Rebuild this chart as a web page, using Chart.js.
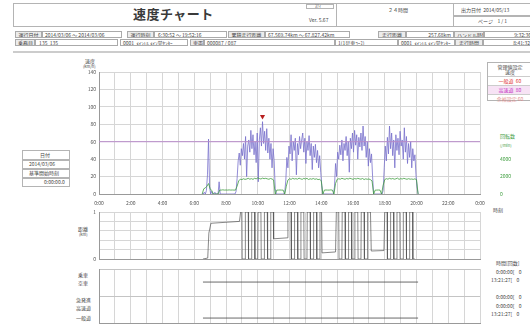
<!DOCTYPE html>
<html lang="ja">
<head>
<meta charset="utf-8">
<title>速度チャート</title>
<script src="https://cdn.jsdelivr.net/npm/chart.js@4.4.1/dist/chart.umd.min.js"></script>
<style>
body { margin:0; background:#fff; font-family:"Noto Sans CJK JP", "Noto Sans", sans-serif; color:#444; }
#page { position:relative; width:530px; height:326px; overflow:hidden; }
canvas { position:absolute; left:0; top:0; }
.t { position:absolute; font-size:5px; line-height:6px; white-space:nowrap; }
.c { position:absolute; border:1px solid #aaa; box-sizing:border-box; height:7px; font-size:5px; line-height:5px; white-space:nowrap; overflow:hidden; padding:0 2px; }
.l { background:#ececec; text-align:center; }
.r { text-align:right; }
.frame { position:absolute; border:1px solid #b4b4b4; box-sizing:border-box; }
.leg div { height:8px; line-height:8px; border-top:1px solid #ccc; text-align:center; font-size:5px; }
</style>
</head>
<body>
<div id="page">
  <!-- ヘッダー -->
  <div class="frame" style="left:13px;top:3px;width:324px;height:24px;"></div>
  <div class="t" style="left:133px;top:7px;font-size:13px;line-height:14px;color:#3a3a3a;font-weight:bold;letter-spacing:0.5px;">速度チャート</div>
  <div class="frame" style="left:306px;top:4px;width:28px;height:5px;"></div>
  <div class="t" style="left:315px;top:4px;font-size:4px;line-height:5px;">ｽﾃｲ</div>
  <div class="t" style="left:309px;top:17px;">Ver. 5.67</div>
  <div class="frame" style="left:336px;top:3px;width:118px;height:24px;"></div>
  <div class="t" style="left:388px;top:7px;">２４時間</div>
  <div class="frame" style="left:453px;top:3px;width:80px;height:24px;"></div>
  <div class="frame" style="left:453px;top:15px;width:80px;height:1px;"></div>
  <div class="t" style="left:461px;top:7px;">出力日付&nbsp;&nbsp;2014/05/13</div>
  <div class="t" style="left:478px;top:18px;">ページ&nbsp;&nbsp;&nbsp;&nbsp;1 / 1</div>

  <div class="c l" style="left:15px;top:31px;width:27px;">運行日付</div>
  <div class="c" style="left:42px;top:31px;width:80px;">2014/03/06 ～ 2014/03/06</div>
  <div class="c l" style="left:127px;top:31px;width:27px;">運行時刻</div>
  <div class="c" style="left:154px;top:31px;width:73px;">&nbsp;6:30:52 ～ 19:52:16</div>
  <div class="c l" style="left:228px;top:31px;width:37px;">累積走行距離</div>
  <div class="c" style="left:265px;top:31px;width:85px;">67,569.74km ～ 67,827.42km</div>
  <div class="c l" style="left:378px;top:31px;width:28px;">走行距離</div>
  <div class="c r" style="left:406px;top:31px;width:48px;">257.68km</div>
  <div class="c l" style="left:454px;top:31px;width:30px;">ハンドル時間</div>
  <div class="c r" style="left:484px;top:31px;width:50px;">9:32:36</div>

  <div class="c l" style="left:15px;top:39px;width:20px;">乗務員</div>
  <div class="c" style="left:35px;top:39px;width:83px;">&nbsp;135&nbsp;&nbsp;135</div>
  <div class="c" style="left:120px;top:39px;width:68px;">0001&nbsp;&nbsp;ﾒｲﾝﾄﾙ ﾒｲﾝ営ｾﾝﾀｰ</div>
  <div class="c l" style="left:190px;top:39px;width:14px;">車両</div>
  <div class="c" style="left:204px;top:39px;width:131px;">000087 / 087</div>
  <div class="c" style="left:335px;top:39px;width:63px;">1(1号車ｺｰｽ)</div>
  <div class="c" style="left:398px;top:39px;width:57px;">0001&nbsp;&nbsp;ﾒｲﾝﾄﾙ ﾒｲﾝ営ｾﾝﾀｰ</div>
  <div class="c l" style="left:455px;top:39px;width:28px;">走行時間</div>
  <div class="c r" style="left:483px;top:39px;width:50px;">8:41:32</div>

  <div class="frame" style="left:13px;top:51px;width:520px;height:2px;border-color:#ccc;"></div>

  <!-- 軸ラベル -->
  <div class="t" style="left:85px;top:58px;">速度</div>
  <div class="t" style="left:83px;top:63px;font-size:4px;">(km/h)</div>
  <div class="t" style="left:500px;top:133px;color:#3c9a3c;">回転数</div>
  <div class="t" style="left:500px;top:142px;color:#3c9a3c;font-size:4px;">(/min)</div>
  <div class="t" style="left:493px;top:207px;">時刻</div>
  <div class="t" style="left:78px;top:226px;">距離</div>
  <div class="t" style="left:79px;top:231px;font-size:4px;">(km)</div>
  <div class="t" style="left:78px;top:272px;">乗車</div>
  <div class="t" style="left:78px;top:280px;">空車</div>
  <div class="t" style="left:76px;top:297px;">急発進</div>
  <div class="t" style="left:76px;top:305px;">高速道</div>
  <div class="t" style="left:76px;top:315px;">一般道</div>

  <!-- 管理値設定 -->
  <div class="frame leg" style="left:487px;top:62px;width:46px;height:39px;">
    <div style="border-top:none;height:13px;line-height:5px;padding-top:1px;box-sizing:border-box;">管理値設定<br>速度</div>
    <div style="color:#e03030;">一般道&nbsp;&nbsp;60</div>
    <div style="color:#c22ec2;background:#f7e3f5;">高速道&nbsp;&nbsp;80</div>
    <div style="color:#e08c8c;">余裕設定&nbsp;60</div>
  </div>

  <!-- 日付 -->
  <div class="frame" style="left:22px;top:150px;width:48px;height:37px;"></div>
  <div class="t" style="left:40px;top:152px;">日付</div>
  <div class="frame" style="left:22px;top:159px;width:48px;height:1px;"></div>
  <div class="t" style="left:29px;top:161px;">2014/03/06</div>
  <div class="frame" style="left:22px;top:168px;width:48px;height:1px;"></div>
  <div class="t" style="left:29px;top:170px;">基準開始時刻</div>
  <div class="frame" style="left:22px;top:177px;width:48px;height:1px;"></div>
  <div class="t" style="left:44px;top:179px;">0:00:00.0</div>

  <!-- 時間[回数] -->
  <div class="t" style="left:496px;top:260px;">時間[回数]</div>
  <div class="t" style="left:496px;top:269px;">0:00:00[&nbsp;&nbsp;&nbsp;&nbsp;0</div>
  <div class="t" style="left:491px;top:277px;">13:21:27[&nbsp;&nbsp;&nbsp;&nbsp;0</div>
  <div class="t" style="left:496px;top:294px;">0:00:00[&nbsp;&nbsp;&nbsp;&nbsp;0</div>
  <div class="t" style="left:496px;top:303px;">0:00:00[&nbsp;&nbsp;&nbsp;&nbsp;0</div>
  <div class="t" style="left:491px;top:311px;">13:21:27[&nbsp;&nbsp;&nbsp;&nbsp;0</div>

  <canvas id="speedChart" width="530" height="326"></canvas>
  <canvas id="distChart" width="530" height="326"></canvas>
  <canvas id="stateChart" width="530" height="326"></canvas>
</div>

<script>
// 速度 km/h : 6:30 から 4 分ごと
const speedStartMin = 390;
const speedStepMin = 4;
const speedKmh = [
  0, 0, 2, 0, 4, 22, 63, 8, 0, 3, 0, 0, 2, 0, 0,
  0, 14, 0, 0, 0, 0, 0, 0, 0, 0, 0, 0, 0, 0, 0,
  0, 0, 3, 18, 38, 47, 33, 52, 44, 58, 40, 66, 20, 55, 62,
  48, 73, 52, 68, 45, 60, 36, 70, 14, 62, 76, 55, 83, 58, 72,
  50, 75, 47, 64, 40, 58, 30, 52, 38, 6, 0, 0, 0, 0, 0,
  0, 0, 0, 2, 15, 42, 30, 55, 46, 68, 38, 60, 50, 64, 22,
  58, 45, 66, 52, 62, 70, 48, 64, 35, 60, 50, 67, 44, 58, 28,
  55, 42, 57, 36, 50, 30, 44, 25, 10, 0, 0, 0, 0, 0, 0,
  0, 0, 0, 0, 0, 8, 35, 20, 48, 40, 56, 45, 62, 38, 58,
  50, 66, 44, 60, 25, 64, 52, 70, 48, 73, 56, 68, 40, 65, 54,
  70, 50, 78, 55, 66, 42, 60, 32, 52, 36, 46, 20, 0, 0, 0,
  0, 0, 0, 0, 0, 0, 4, 30, 55, 38, 65, 46, 78, 52, 70,
  44, 62, 30, 68, 50, 64, 45, 72, 55, 62, 40, 76, 48, 66, 35,
  58, 42, 60, 30, 52, 38, 45, 22, 8, 0
];

// 回転数 /min : 6:30 から 6 分ごと
const rpmStartMin = 390;
const rpmStepMin = 6;
const engineRpm = [
  0, 600, 700, 900, 1200, 600, 400, 0, 0, 0,
  0, 450, 450, 480, 450, 460, 450, 470, 450, 460,
  450, 450, 900, 1500, 1700, 1650, 1750, 1680, 1720, 1800,
  1700, 1760, 1680, 1800, 1740, 1850, 1780, 1720, 1820, 1760,
  1800, 1740, 1690, 1780, 1720, 1600, 0, 450, 450, 460,
  450, 450, 0, 900, 1600, 1750, 1680, 1800, 1720, 1760,
  1700, 1820, 1740, 1680, 1790, 1720, 1800, 1660, 1750, 1700,
  1780, 1690, 1740, 1650, 1700, 1500, 0, 450, 460, 450,
  450, 470, 450, 0, 1200, 1680, 1750, 1700, 1800, 1740,
  1690, 1780, 1720, 1810, 1750, 1680, 1770, 1720, 1800, 1740,
  1700, 1780, 1660, 1740, 1690, 1720, 1650, 1500, 0, 450,
  450, 460, 450, 0, 1000, 1650, 1760, 1700, 1800, 1720,
  1780, 1700, 1740, 1820, 1680, 1760, 1720, 1800, 1740, 1690,
  1760, 1700, 1720, 1680, 1740, 1650, 0
];

// 発進・停止マーク (時)
const markerHours = [7.56, 8.63, 11.65, 14.87, 17.9];

// 距離 (1km で折り返し)
const distHours = [
  6.55, 6.85, 6.92, 7.05, 8.85, 8.92,
  9.0, 9.02, 9.2, 9.22, 9.4, 9.42, 9.6, 9.62, 9.8, 9.82,
  10.0, 10.02, 10.2, 10.22, 10.4, 10.42, 10.6, 10.62, 10.8, 10.82, 10.98,
  11.0, 11.85, 11.9,
  12.1, 12.12, 12.3, 12.32, 12.5, 12.52, 12.7, 12.72, 12.9, 12.92,
  13.1, 13.12, 13.3, 13.32, 13.5, 13.52, 13.7, 13.72, 13.9, 13.92, 14.02,
  14.05, 14.9, 14.95,
  15.1, 15.12, 15.3, 15.32, 15.5, 15.52, 15.7, 15.72, 15.9, 15.92,
  16.1, 16.12, 16.3, 16.32, 16.5, 16.52, 16.7, 16.72, 16.9, 16.92, 17.1,
  17.15, 17.95, 18.0,
  18.15, 18.17, 18.35, 18.37, 18.55, 18.57, 18.75, 18.77, 18.95, 18.97,
  19.15, 19.17, 19.35, 19.37, 19.55, 19.57, 19.75, 19.77, 19.9
];
const distKm = [
  0, 0.02, 0.55, 0.76, 0.8, 1,
  1, 0, 0, 1, 1, 0, 0, 1, 1, 0,
  0, 1, 1, 0, 0, 1, 1, 0, 0, 1, 1,
  0.43, 0.45, 1,
  1, 0, 0, 1, 1, 0, 0, 1, 1, 0,
  0, 1, 1, 0, 0, 1, 1, 0, 0, 1, 1,
  0.13, 0.15, 1,
  1, 0, 0, 1, 1, 0, 0, 1, 1, 0,
  0, 1, 1, 0, 0, 1, 1, 0, 0, 1, 1,
  0.17, 0.18, 1,
  1, 0, 0, 1, 1, 0, 0, 1, 1, 0,
  0, 1, 1, 0, 0, 1, 1, 0, 0
];

// 空車・一般道の区間 (時)
const emptyRun = [6.55, 20.1];
const roadRun = [6.55, 20.1];

const limitKmh = 60;
const timeLabels = ['0:00', '2:00', '4:00', '6:00', '8:00', '10:00', '12:00',
  '14:00', '16:00', '18:00', '20:00', '22:00', '0:00'];
const rpmLabels = [0, 2000, 4000];

Chart.defaults.font.family = '"Noto Sans CJK JP", "Noto Sans", sans-serif';
Chart.defaults.font.size = 5;
Chart.defaults.color = '#555';

const gridColor = '#d6d6d6';
const toPoints = (start, step, vals) => vals.map((v, i) => ({ x: (start + step * i) / 60, y: v }));
const speedPts = toPoints(speedStartMin, speedStepMin, speedKmh);
const rpmPts = toPoints(rpmStartMin, rpmStepMin, engineRpm);
const peak = Math.max(...speedKmh);
const peakPt = speedPts[speedKmh.indexOf(peak)];

function hourAxis(showLabels, afterFit) {
  return {
    type: 'linear', min: 0, max: 24,
    ticks: {
      display: showLabels, stepSize: 1, autoSkip: false, maxRotation: 0, padding: 6,
      callback: v => (v % 2 === 0 ? timeLabels[v / 2] : '')
    },
    grid: { color: gridColor, drawTicks: false },
    border: { color: '#999' },
    afterFit
  };
}

const common = {
  responsive: false,
  animation: false,
  events: [],
  plugins: { legend: { display: false }, tooltip: { enabled: false } }
};

new Chart(document.getElementById('speedChart'), {
  type: 'line',
  data: {
    datasets: [
      { data: [{ x: 0, y: limitKmh }, { x: 24, y: limitKmh }], borderColor: '#b98ccb', borderWidth: 1, pointRadius: 0, yAxisID: 'y' },
      { data: rpmPts, borderColor: '#3f9e3f', borderWidth: 0.8, pointRadius: 0, yAxisID: 'rpm' },
      { data: speedPts, borderColor: '#7770cc', borderWidth: 0.8, pointRadius: 0, yAxisID: 'y' },
      {
        type: 'scatter', data: markerHours.map(h => ({ x: h, y: -6 })), yAxisID: 'y',
        pointStyle: 'triangle', pointRadius: 3, backgroundColor: '#22228f', borderWidth: 0, clip: false
      },
      {
        type: 'scatter', data: [{ x: peakPt.x, y: peak + 6 }], yAxisID: 'y',
        pointStyle: 'triangle', rotation: 180, pointRadius: 3, backgroundColor: '#b82020', borderWidth: 0, clip: false
      }
    ]
  },
  options: {
    ...common,
    layout: { padding: { left: 60, right: 0, top: 72, bottom: 118 } },
    scales: {
      x: hourAxis(true, s => { s.height = 14; }),
      y: {
        min: 0, max: 140,
        ticks: { stepSize: 10, padding: 3, callback: v => (v % 20 === 0 ? v : '') },
        grid: { color: gridColor, drawTicks: false },
        border: { color: '#999' },
        afterFit: s => { s.width = 39; }
      },
      rpm: {
        position: 'right', min: 0, max: 14000,
        ticks: { stepSize: 2000, padding: 12, color: '#3f9e3f', callback: v => (rpmLabels.includes(v) ? v : '') },
        grid: { display: false },
        border: { display: false },
        afterFit: s => { s.width = 50; }
      }
    }
  }
});

new Chart(document.getElementById('distChart'), {
  type: 'line',
  data: {
    datasets: [
      { data: distHours.map((h, i) => ({ x: h, y: distKm[i] })), borderColor: '#555', borderWidth: 0.7, pointRadius: 0 }
    ]
  },
  options: {
    ...common,
    layout: { padding: { left: 89, right: 50, top: 212, bottom: 67 } },
    scales: {
      x: hourAxis(false, s => { s.height = 0; }),
      y: {
        min: 0, max: 1,
        ticks: { stepSize: 0.1, padding: 3, callback: v => (v === 0 || v === 1 ? v : '') },
        grid: { color: gridColor, drawTicks: false },
        border: { color: '#999' },
        afterFit: s => { s.width = 10; }
      }
    }
  }
});

new Chart(document.getElementById('stateChart'), {
  type: 'line',
  data: {
    datasets: [
      { data: emptyRun.map(h => ({ x: h, y: 4.55 })), borderColor: '#444', borderWidth: 0.8, pointRadius: 0 },
      { data: roadRun.map(h => ({ x: h, y: 0.55 })), borderColor: '#444', borderWidth: 0.8, pointRadius: 0 }
    ]
  },
  options: {
    ...common,
    layout: { padding: { left: 99, right: 50, top: 269, bottom: 3 } },
    scales: {
      x: hourAxis(false, s => { s.height = 0; }),
      y: {
        min: 0, max: 6,
        ticks: { display: false, stepSize: 3 },
        grid: { color: '#c4c4c4', drawTicks: false },
        border: { color: '#999' },
        afterFit: s => { s.width = 0; }
      }
    }
  }
});
</script>
</body>
</html>
